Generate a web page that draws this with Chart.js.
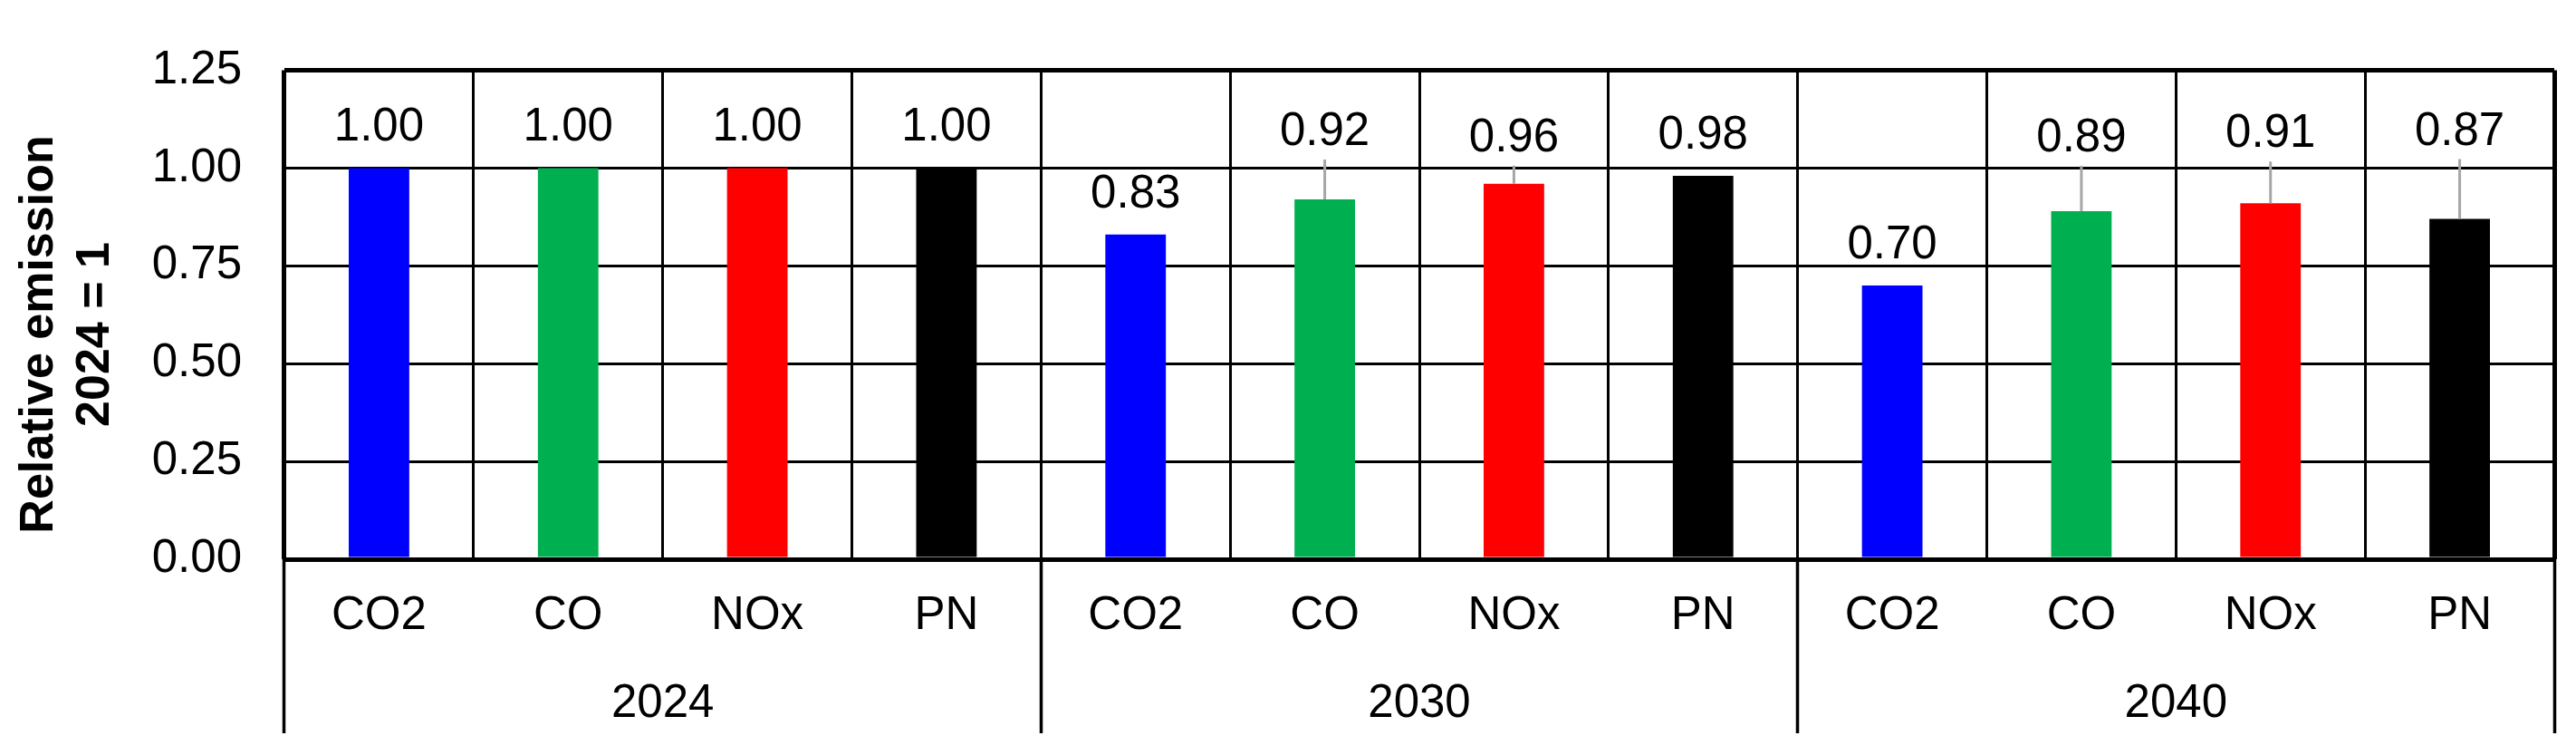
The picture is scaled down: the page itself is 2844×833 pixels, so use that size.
<!DOCTYPE html>
<html><head><meta charset="utf-8">
<script src="https://cdn.jsdelivr.net/npm/chart.js@4/dist/chart.umd.min.js"></script>
<style>html,body{margin:0;padding:0;background:#fff;}#wrap{width:2844px;height:833px;}</style>
</head><body><div id="wrap"><canvas id="c" width="2844" height="833"></canvas></div>
<script>
// ---- data ----
const pollutants = ['CO2', 'CO', 'NOx', 'PN'];
const years = ['2024', '2030', '2040'];
const values2024 = [1.00, 1.00, 1.00, 1.00];
const values2030 = [0.83, 0.92, 0.96, 0.98];
const values2040 = [0.70, 0.89, 0.91, 0.87];
const yTicks = [0, 0.25, 0.50, 0.75, 1.00, 1.25];
const yTitle = ['Relative emission   ', '2024 = 1   '];

// ---- styles ----
const pollutantColors = ['#0000FF', '#00B050', '#FF0000', '#000000'];
const labelLift = [0, 0, 0, 0, 0, 30, 6, 0, 0, 36, 32, 52];
const FONT = '"Liberation Sans", Arial, Helvetica, sans-serif';

const categories = years.flatMap(() => pollutants);
const values = [].concat(values2024, values2030, values2040);
const barColors = years.flatMap(() => pollutantColors);

Chart.defaults.font.family = FONT;
Chart.defaults.color = '#000';

const valueLabels = {
  id: 'valueLabels',
  afterDatasetsDraw(chart) {
    const ctx = chart.ctx;
    const meta = chart.getDatasetMeta(0);
    const ds = chart.data.datasets[0];
    ctx.save();
    meta.data.forEach((bar, i) => {
      const lift = labelLift[i];
      const base = bar.y - 30 - lift;
      if (lift > 0) {
        ctx.strokeStyle = '#A6A6A6';
        ctx.lineWidth = 3;
        ctx.beginPath();
        ctx.moveTo(bar.x, base + 16);
        ctx.lineTo(bar.x, bar.y);
        ctx.stroke();
      }
      ctx.font = '51px ' + FONT;
      ctx.fillStyle = '#000';
      ctx.textAlign = 'center';
      ctx.textBaseline = 'alphabetic';
      ctx.fillText(ds.data[i].toFixed(2), bar.x, base);
    });
    ctx.restore();
  }
};

new Chart(document.getElementById('c'), {
  type: 'bar',
  data: {
    labels: categories,
    datasets: [{
      data: values,
      backgroundColor: barColors,
      borderWidth: 0,
      categoryPercentage: 1.0,
      barPercentage: 0.32,
      xAxisID: 'x',
      yAxisID: 'y'
    }]
  },
  options: {
    responsive: false,
    devicePixelRatio: 1,
    animation: false,
    layout: { padding: { top: 55, right: 24, bottom: 16, left: 0 } },
    plugins: { legend: { display: false }, tooltip: { enabled: false } },
    scales: {
      x: {
        type: 'category',
        position: 'bottom',
        weight: 1,
        offset: true,
        grid: {
          offset: true,
          color: '#000',
          lineWidth: c => (c.index === undefined || c.index === 0) ? 5 : 3,
          drawTicks: true,
          tickLength: 192,
          tickWidth: 3.5,
          tickColor: c => (c.index === undefined || c.index % 4 === 0) ? '#000' : 'rgba(0,0,0,0)'
        },
        border: { display: false },
        ticks: { font: { size: 51 }, color: '#000', padding: -160, maxRotation: 0, autoSkip: false },
        afterFit: s => { s.height = 100; }
      },
      x2: {
        type: 'category',
        position: 'bottom',
        weight: 2,
        labels: years,
        offset: true,
        grid: { display: false, drawTicks: false },
        border: { display: false },
        ticks: { font: { size: 51 }, color: '#000', padding: 29, maxRotation: 0, autoSkip: false },
        afterFit: s => { s.height = 100; }
      },
      y: {
        min: 0,
        max: 1.25,
        afterBuildTicks: s => { s.ticks = yTicks.map(v => ({ value: v })); },
        grid: {
          color: '#000',
          lineWidth: c => (c.tick && (c.tick.value === 0 || c.tick.value === 1.25)) ? 5 : 3,
          drawTicks: false
        },
        border: { display: false },
        ticks: { font: { size: 51 }, color: '#000', padding: 47, callback: v => Number(v).toFixed(2) },
        title: {
          display: true,
          text: yTitle,
          font: { size: 52, weight: 'bold' },
          color: '#000',
          padding: { top: 12, bottom: 0 }
        },
        afterFit: s => { s.width = 314; }
      }
    }
  },
  plugins: [valueLabels]
});
</script></body></html>
